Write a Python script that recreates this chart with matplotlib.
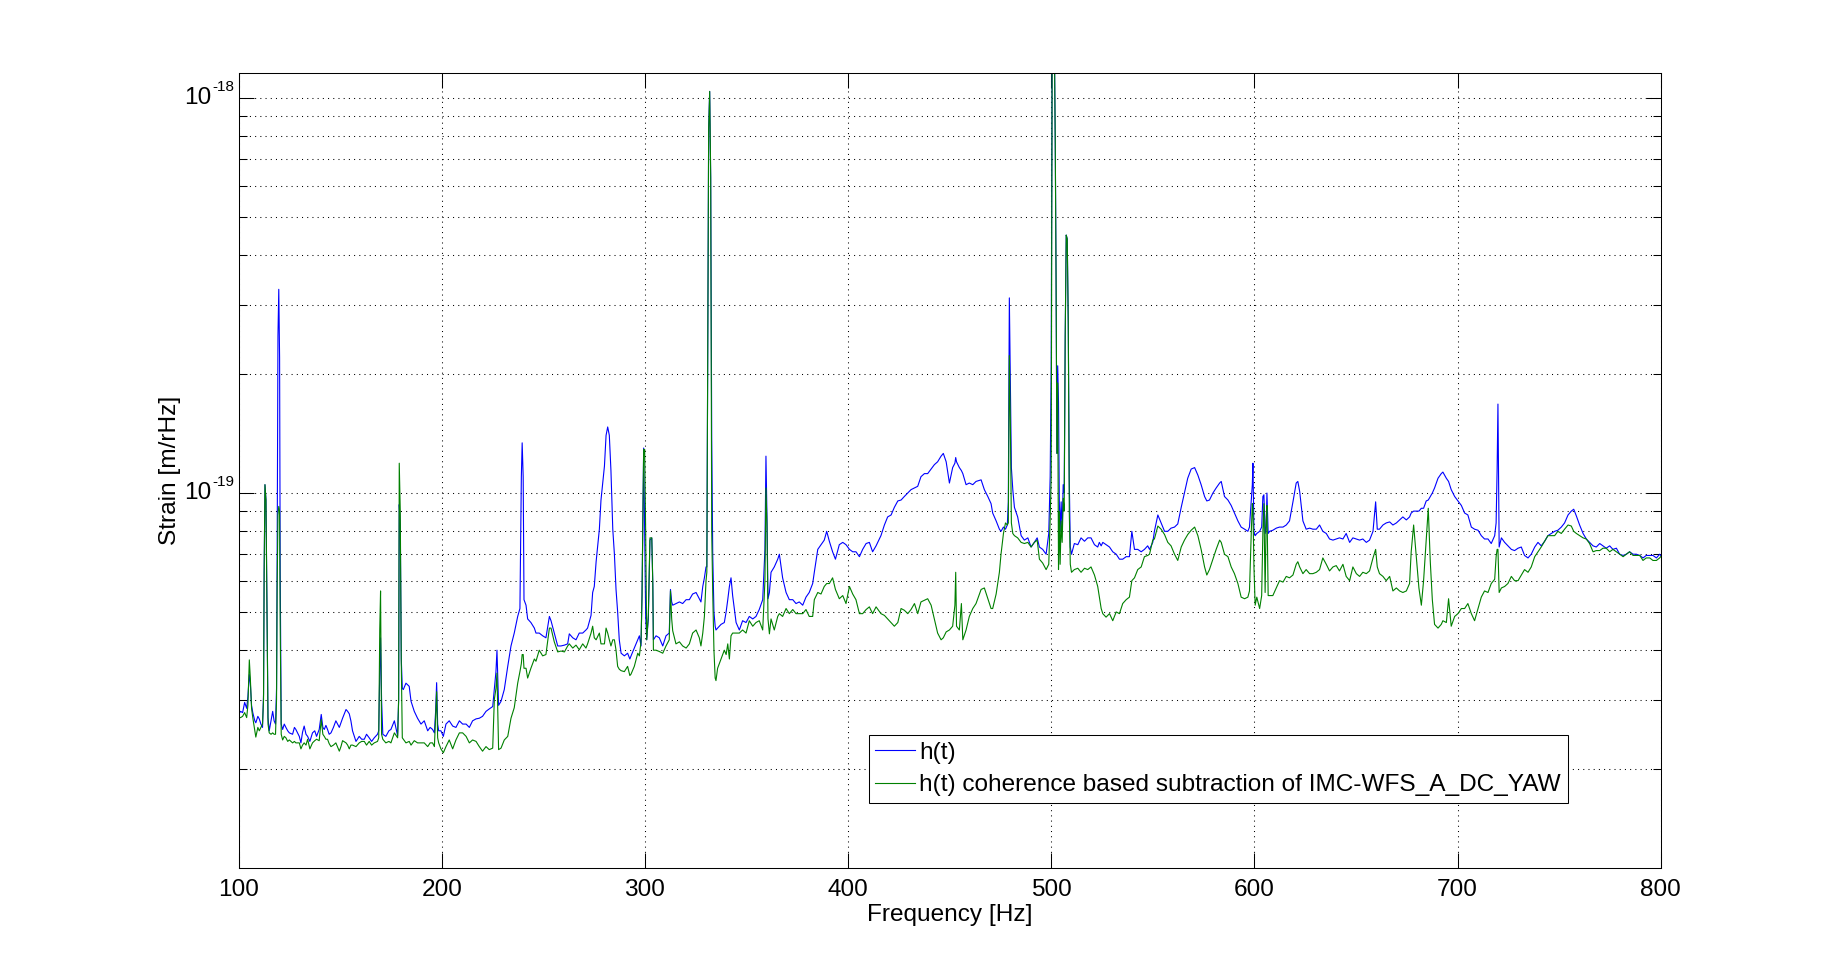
import numpy as np
import matplotlib
matplotlib.use("Agg")
import matplotlib.pyplot as plt
from matplotlib.ticker import LogLocator, NullFormatter, MultipleLocator
from matplotlib.transforms import blended_transform_factory, offset_copy

plt.rcParams["font.family"] = ["Liberation Sans", "DejaVu Sans"]

# amplitude spectral densities, in units of 1e-20 m/rHz
UNIT = 1e-20

freq = [
    100.0, 101.0, 102.0, 103.0, 104.0, 104.6, 105.3, 105.8, 106.4, 107.0,
    108.0, 108.5, 109.5, 110.2, 111.0, 111.8, 112.3, 112.6, 113.0, 113.5,
    114.0, 114.5, 115.1, 116.0, 116.8, 117.5, 118.2, 118.7, 119.0, 119.4,
    119.8, 120.2, 120.5, 121.0, 121.7, 122.5, 123.3, 124.2, 125.0, 126.6,
    127.5, 128.2, 129.9, 130.7, 131.5, 132.3, 133.2, 134.0, 135.1, 136.4,
    137.5, 138.4, 139.7, 140.7, 141.5, 142.2, 143.0, 143.8, 144.6, 145.5,
    146.7, 147.9, 149.6, 150.4, 151.2, 152.9, 153.7, 154.5, 155.3, 156.1,
    157.8, 159.4, 160.6, 161.9, 163.0, 164.3, 165.5, 166.8, 168.4, 169.0,
    169.5, 169.9, 170.4, 171.0, 172.5, 174.0, 175.0, 176.7, 178.3, 178.8,
    179.1, 179.6, 180.1, 180.6, 181.1, 182.4, 184.0, 184.9, 186.5, 188.1,
    189.8, 191.4, 193.1, 194.3, 195.5, 196.4, 197.0, 197.5, 198.0, 198.5,
    199.6, 200.8, 202.1, 203.7, 205.4, 207.0, 208.7, 210.3, 212.0, 213.6,
    215.2, 216.9, 218.5, 220.1, 221.8, 223.4, 225.1, 225.9, 226.7, 227.2,
    227.7, 228.0, 229.2, 230.8, 232.5, 234.1, 235.7, 237.4, 238.5, 239.2,
    239.6, 240.1, 240.5, 241.5, 242.3, 243.9, 245.6, 246.4, 248.0, 249.7,
    251.3, 253.0, 253.8, 255.4, 257.1, 258.7, 260.4, 262.0, 262.8, 264.5,
    266.1, 267.7, 269.4, 271.0, 271.8, 273.5, 274.3, 275.1, 276.0, 277.6,
    278.4, 280.1, 280.9, 281.7, 282.5, 283.3, 284.2, 285.0, 285.8, 286.6,
    287.4, 288.3, 289.9, 291.5, 292.6, 293.2, 294.8, 296.5, 297.3, 298.1,
    298.6, 299.0, 299.4, 299.9, 300.4, 300.9, 301.7, 302.5, 303.4, 303.9,
    304.2, 305.5, 307.1, 308.8, 310.4, 312.0, 312.6, 313.2, 313.7, 315.3,
    317.0, 318.6, 320.3, 321.9, 323.5, 325.2, 326.8, 327.6, 328.5, 329.3,
    330.1, 330.5, 330.9, 331.4, 331.9, 332.4, 332.9, 333.4, 334.0, 334.6,
    335.0, 335.8, 337.5, 339.1, 340.0, 340.8, 341.6, 342.4, 343.2, 344.9,
    346.5, 348.1, 349.8, 351.4, 353.1, 354.7, 356.3, 358.0, 359.1, 359.6,
    360.1, 360.6, 361.3, 362.1, 363.7, 365.4, 366.2, 367.8, 369.5, 371.1,
    372.8, 374.4, 376.0, 377.7, 379.3, 380.9, 382.6, 383.4, 385.1, 386.7,
    388.3, 389.5, 390.8, 392.4, 393.8, 395.7, 397.4, 399.0, 400.7, 402.3,
    403.9, 405.6, 407.2, 408.9, 410.5, 412.1, 413.8, 416.2, 417.9, 419.5,
    421.2, 422.8, 424.5, 426.1, 427.7, 429.4, 431.0, 432.7, 434.3, 435.9,
    437.6, 439.2, 440.9, 442.5, 444.1, 445.8, 446.9, 448.3, 449.9, 451.5,
    452.6, 453.0, 453.4, 454.8, 455.8, 456.5, 458.1, 459.7, 461.4, 463.0,
    465.5, 467.1, 468.8, 470.4, 471.2, 472.9, 474.5, 475.3, 476.5, 477.5,
    478.4, 478.9, 479.4, 479.9, 480.4, 481.1, 481.9, 483.5, 485.2, 486.8,
    488.5, 490.1, 491.7, 493.1, 494.2, 495.8, 497.5, 498.8, 499.5, 500.0,
    500.5, 501.0, 501.5, 502.0, 502.4, 502.8, 503.2, 503.6, 504.0, 504.4,
    504.9, 505.4, 505.9, 506.4, 506.9, 507.4, 507.9, 508.4, 508.9, 509.4,
    510.0, 511.4, 513.1, 514.7, 516.4, 518.0, 519.6, 521.3, 522.9, 523.7,
    524.6, 525.4, 527.0, 528.7, 530.3, 532.0, 533.6, 535.2, 536.9, 538.5,
    539.7, 541.0, 542.6, 544.3, 545.9, 547.5, 548.4, 550.0, 550.8, 552.5,
    554.1, 555.8, 557.4, 559.0, 560.7, 562.3, 564.0, 565.6, 567.2, 568.9,
    570.6, 572.2, 573.8, 575.5, 576.6, 577.9, 579.6, 581.2, 582.9, 583.7,
    585.3, 587.0, 588.6, 590.2, 591.9, 593.5, 595.2, 596.8, 597.6, 598.5,
    599.0, 599.3, 599.8, 600.4, 601.2, 602.6, 603.6, 604.2, 604.7, 605.3,
    605.8, 606.2, 606.8, 607.5, 609.1, 610.8, 612.4, 614.1, 615.7, 617.3,
    619.0, 620.6, 621.4, 622.3, 623.9, 625.5, 627.2, 628.8, 630.5, 632.1,
    633.7, 635.4, 637.0, 638.7, 640.3, 641.9, 643.6, 645.2, 646.9, 648.5,
    650.2, 651.8, 653.4, 655.1, 656.7, 658.4, 659.7, 660.5, 661.6, 663.3,
    664.9, 666.6, 668.2, 669.9, 671.5, 673.1, 674.8, 676.4, 677.2, 678.4,
    679.7, 681.0, 682.2, 683.3, 684.6, 685.6, 686.6, 687.6, 688.7, 690.4,
    692.0, 692.8, 694.5, 695.6, 696.9, 698.6, 700.2, 701.9, 703.5, 705.1,
    706.8, 708.4, 710.1, 711.7, 713.3, 715.0, 716.6, 718.3, 719.0, 719.5,
    719.9, 720.5, 721.6, 723.2, 724.8, 726.5, 728.1, 729.8, 731.4, 733.0,
    734.7, 736.3, 738.0, 739.6, 741.2, 742.9, 744.5, 746.2, 747.8, 749.4,
    751.1, 752.7, 754.4, 756.0, 757.2, 758.5, 760.1, 761.8, 763.4, 765.0,
    766.7, 768.3, 770.0, 771.6, 773.2, 774.9, 776.5, 778.2, 779.8, 781.5,
    783.1, 784.7, 786.4, 788.0, 789.7, 791.3, 792.9, 794.6, 796.2, 797.9,
    799.5, 800.0,
]

h_t = [
    2.75, 2.80, 2.78, 2.95, 2.85, 3.05, 3.47, 3.30, 2.90, 2.78,
    2.65, 2.62, 2.72, 2.68, 2.60, 2.55, 3.10, 6.30, 10.5, 9.60,
    5.00, 2.70, 2.50, 2.65, 2.80, 2.65, 2.60, 3.20, 6.90, 25.0,
    32.8, 22.0, 6.30, 2.60, 2.52, 2.60, 2.55, 2.50, 2.47, 2.45,
    2.55, 2.52, 2.42, 2.33, 2.48, 2.57, 2.45, 2.42, 2.35, 2.47,
    2.50, 2.42, 2.52, 2.75, 2.55, 2.52, 2.58, 2.52, 2.45, 2.47,
    2.55, 2.65, 2.55, 2.62, 2.69, 2.83, 2.80, 2.76, 2.65, 2.50,
    2.35, 2.42, 2.38, 2.38, 2.45, 2.40, 2.35, 2.40, 2.45, 2.50,
    3.50, 4.30, 3.00, 2.45, 2.42, 2.50, 2.52, 2.65, 2.43, 3.00,
    9.35, 8.30, 3.80, 3.20, 3.18, 3.30, 3.24, 2.97, 2.80, 2.69,
    2.60, 2.65, 2.50, 2.55, 2.52, 2.47, 2.80, 3.31, 2.60, 2.50,
    2.50, 2.42, 2.60, 2.65, 2.57, 2.55, 2.65, 2.60, 2.60, 2.55,
    2.65, 2.68, 2.69, 2.72, 2.80, 2.84, 2.88, 3.20, 3.53, 4.00,
    3.30, 2.90, 2.97, 3.18, 3.64, 4.10, 4.42, 4.87, 5.10, 11.0,
    13.4, 11.0, 5.37, 5.20, 4.80, 4.70, 4.55, 4.42, 4.42, 4.35,
    4.30, 4.87, 4.75, 4.42, 4.10, 4.10, 4.12, 4.15, 4.40, 4.30,
    4.25, 4.42, 4.42, 4.50, 4.55, 4.90, 5.60, 5.80, 6.70, 8.10,
    9.60, 11.7, 14.0, 14.7, 14.0, 11.4, 8.10, 7.00, 5.70, 5.00,
    4.25, 3.93, 3.87, 3.93, 3.80, 3.87, 4.05, 4.25, 4.35, 4.10,
    5.50, 8.40, 13.0, 7.90, 4.87, 4.25, 4.80, 7.60, 7.70, 5.90,
    4.25, 4.35, 4.30, 4.10, 4.35, 4.42, 5.70, 5.30, 5.20, 5.25,
    5.30, 5.25, 5.37, 5.37, 5.55, 5.60, 5.40, 5.30, 5.80, 6.10,
    6.50, 6.50, 21.7, 84.0, 104., 63.0, 13.9, 7.00, 5.00, 4.60,
    4.50, 4.55, 4.65, 4.70, 5.00, 5.37, 5.80, 6.10, 5.50, 4.70,
    4.50, 4.75, 4.70, 4.87, 4.80, 4.87, 5.07, 5.37, 7.20, 12.4,
    8.70, 5.40, 5.60, 6.30, 6.50, 6.80, 7.00, 6.10, 5.60, 5.37,
    5.37, 5.25, 5.30, 5.20, 5.45, 5.60, 5.90, 6.30, 7.20, 7.40,
    7.60, 8.00, 7.55, 7.10, 6.80, 7.40, 7.50, 7.40, 7.20, 7.10,
    7.10, 6.90, 7.20, 7.45, 7.50, 7.10, 7.35, 7.80, 8.30, 8.70,
    8.80, 9.20, 9.55, 9.60, 9.80, 10.0, 10.2, 10.3, 10.4, 11.0,
    11.2, 11.2, 11.5, 11.8, 12.0, 12.4, 12.6, 12.0, 10.6, 11.6,
    11.9, 12.3, 12.0, 11.6, 11.4, 11.2, 10.5, 10.6, 10.5, 10.7,
    10.8, 10.2, 9.80, 9.40, 8.90, 8.50, 8.10, 8.00, 8.20, 8.10,
    8.30, 9.50, 31.2, 19.0, 11.6, 10.2, 9.20, 8.70, 7.80, 7.60,
    7.70, 7.30, 7.50, 7.70, 7.30, 7.20, 7.00, 7.90, 11.0, 21.0,
    150., 150., 150., 77.0, 35.0, 12.6, 21.0, 17.0, 9.50, 8.00,
    9.50, 8.00, 10.5, 10.0, 25.0, 45.0, 44.0, 27.0, 10.9, 7.30,
    7.00, 7.45, 7.40, 7.70, 7.55, 7.70, 7.70, 7.40, 7.30, 7.50,
    7.35, 7.50, 7.40, 7.30, 7.10, 7.00, 6.80, 6.80, 6.90, 6.90,
    8.00, 7.20, 7.20, 7.10, 7.20, 7.35, 7.20, 7.50, 8.00, 8.80,
    8.40, 8.00, 8.00, 8.15, 8.20, 8.35, 9.20, 10.0, 10.9, 11.5,
    11.6, 11.1, 10.5, 9.80, 9.55, 9.60, 10.0, 10.3, 10.6, 10.7,
    9.80, 9.60, 9.30, 8.90, 8.50, 8.20, 8.10, 8.00, 8.20, 9.60,
    10.5, 11.9, 8.00, 7.80, 7.90, 8.00, 8.20, 9.80, 9.90, 7.90,
    8.20, 10.0, 7.90, 8.00, 8.05, 8.15, 8.20, 8.20, 8.30, 8.50,
    9.50, 10.6, 10.7, 10.1, 8.50, 8.10, 8.15, 8.10, 8.10, 8.30,
    8.00, 7.90, 7.65, 7.60, 7.65, 7.70, 7.65, 7.90, 7.50, 7.70,
    7.65, 7.60, 7.65, 7.50, 7.60, 8.00, 9.50, 8.10, 8.10, 8.30,
    8.40, 8.45, 8.30, 8.40, 8.55, 8.70, 8.55, 8.70, 8.90, 9.00,
    9.00, 9.00, 9.15, 9.15, 9.55, 9.60, 9.80, 10.0, 10.3, 10.9,
    11.2, 11.3, 10.9, 10.7, 10.2, 9.80, 9.55, 9.30, 8.90, 8.80,
    8.20, 8.10, 8.05, 7.80, 7.65, 7.65, 7.45, 7.80, 8.40, 11.5,
    16.8, 7.30, 7.70, 7.50, 7.35, 7.20, 7.15, 7.25, 7.30, 6.95,
    6.85, 7.00, 7.30, 7.50, 7.35, 7.55, 7.80, 7.90, 8.00, 8.05,
    8.20, 8.40, 8.80, 9.00, 9.10, 8.75, 8.30, 7.90, 7.65, 7.50,
    7.35, 7.30, 7.45, 7.35, 7.25, 7.35, 7.20, 7.25, 7.00, 6.95,
    7.00, 7.10, 7.00, 7.00, 6.95, 6.85, 6.95, 6.95, 6.95, 6.85,
    7.00, 6.95,
]

h_sub = [
    2.70, 2.70, 2.72, 2.78, 2.70, 2.90, 3.78, 3.40, 2.85, 2.70,
    2.50, 2.41, 2.55, 2.50, 2.55, 2.60, 3.00, 6.30, 10.5, 9.60,
    5.00, 2.60, 2.47, 2.45, 2.47, 2.45, 2.45, 3.00, 5.80, 8.80,
    9.25, 9.00, 4.60, 2.45, 2.37, 2.42, 2.40, 2.35, 2.37, 2.33,
    2.35, 2.33, 2.33, 2.25, 2.30, 2.33, 2.30, 2.38, 2.25, 2.33,
    2.36, 2.38, 2.36, 2.67, 2.45, 2.42, 2.38, 2.38, 2.32, 2.28,
    2.30, 2.33, 2.22, 2.28, 2.36, 2.33, 2.30, 2.25, 2.30, 2.30,
    2.28, 2.33, 2.35, 2.35, 2.30, 2.35, 2.30, 2.33, 2.35, 2.40,
    4.50, 5.65, 2.45, 2.38, 2.33, 2.35, 2.33, 2.47, 2.40, 3.00,
    11.9, 9.00, 3.70, 2.40, 2.38, 2.33, 2.35, 2.30, 2.36, 2.33,
    2.33, 2.33, 2.28, 2.33, 2.33, 2.28, 2.70, 3.14, 2.40, 2.33,
    2.25, 2.20, 2.28, 2.37, 2.25, 2.37, 2.47, 2.47, 2.42, 2.33,
    2.37, 2.35, 2.28, 2.22, 2.28, 2.24, 2.26, 3.00, 3.20, 3.50,
    2.60, 2.24, 2.26, 2.37, 2.42, 2.69, 2.86, 3.30, 3.53, 3.70,
    3.90, 3.90, 3.60, 3.60, 3.40, 3.60, 3.80, 3.75, 4.00, 3.87,
    3.90, 4.55, 4.55, 4.20, 3.96, 3.98, 3.96, 4.10, 4.15, 4.05,
    4.12, 4.01, 4.15, 4.05, 4.15, 4.42, 4.60, 4.30, 4.25, 4.42,
    4.15, 4.15, 4.55, 4.42, 4.25, 4.10, 4.25, 4.25, 4.00, 3.64,
    3.58, 3.55, 3.53, 3.64, 3.45, 3.48, 3.64, 3.93, 3.87, 4.20,
    5.50, 8.40, 12.9, 12.9, 7.90, 4.25, 4.90, 7.70, 7.70, 5.90,
    4.00, 4.00, 3.97, 3.93, 4.10, 4.25, 5.65, 4.80, 4.48, 4.15,
    4.20, 4.10, 4.05, 4.15, 4.42, 4.50, 4.30, 4.10, 4.42, 4.87,
    6.00, 6.30, 21.0, 84.0, 104., 63.0, 8.00, 5.60, 4.00, 3.40,
    3.35, 3.60, 3.80, 4.00, 3.90, 4.15, 3.80, 4.35, 4.42, 4.42,
    4.42, 4.50, 4.42, 4.75, 4.60, 4.70, 4.75, 4.50, 6.00, 10.3,
    8.30, 4.80, 4.40, 4.80, 4.50, 4.87, 4.95, 4.87, 5.10, 4.95,
    5.07, 4.95, 4.95, 4.95, 5.07, 4.87, 4.87, 5.37, 5.60, 5.55,
    5.80, 5.90, 5.90, 6.10, 5.70, 5.40, 5.50, 5.25, 5.80, 5.55,
    5.37, 4.95, 4.95, 5.07, 5.15, 4.95, 5.15, 4.95, 4.90, 4.80,
    4.70, 4.60, 4.70, 5.10, 5.05, 4.95, 5.07, 5.25, 4.95, 5.30,
    5.35, 5.40, 5.20, 4.80, 4.42, 4.25, 4.30, 4.45, 4.50, 4.60,
    5.20, 6.30, 4.60, 4.50, 5.25, 4.25, 4.50, 4.87, 5.10, 5.25,
    5.70, 5.75, 5.40, 5.10, 5.10, 5.55, 6.30, 7.00, 7.90, 8.40,
    8.30, 8.40, 22.3, 15.0, 8.40, 7.90, 7.80, 7.70, 7.50, 7.45,
    7.50, 7.30, 7.50, 7.60, 6.80, 6.65, 6.40, 6.60, 8.60, 11.0,
    150., 150., 150., 77.0, 35.0, 12.6, 19.0, 6.40, 9.00, 6.60,
    8.50, 7.50, 9.70, 9.00, 25.0, 45.0, 44.0, 27.0, 9.00, 6.60,
    6.30, 6.40, 6.45, 6.30, 6.45, 6.40, 6.50, 6.20, 5.80, 5.45,
    5.10, 4.95, 4.85, 4.95, 4.75, 5.00, 4.95, 5.25, 5.37, 5.45,
    6.00, 6.10, 6.40, 6.50, 6.90, 6.95, 7.00, 7.60, 7.65, 8.25,
    8.10, 7.85, 7.50, 7.35, 7.00, 6.75, 7.30, 7.60, 7.85, 8.05,
    8.20, 7.80, 7.20, 6.50, 6.20, 6.40, 6.80, 7.20, 7.60, 7.50,
    7.00, 6.90, 6.50, 6.25, 5.90, 5.45, 5.40, 5.45, 5.65, 8.00,
    9.40, 9.10, 6.50, 5.20, 5.45, 5.10, 5.50, 8.00, 9.40, 5.60,
    8.50, 9.30, 5.50, 5.50, 5.50, 5.75, 6.00, 5.95, 6.15, 6.10,
    6.20, 6.60, 6.70, 6.50, 6.25, 6.40, 6.25, 6.25, 6.30, 6.40,
    6.85, 6.60, 6.35, 6.50, 6.55, 6.35, 6.60, 6.15, 6.00, 6.50,
    6.25, 6.15, 6.30, 6.25, 6.35, 6.85, 7.20, 6.50, 6.25, 6.15,
    6.00, 6.15, 5.65, 5.75, 5.65, 5.60, 5.65, 5.90, 7.10, 8.30,
    6.90, 5.75, 5.20, 6.00, 7.60, 9.15, 6.70, 5.37, 4.65, 4.55,
    4.65, 4.75, 4.70, 5.40, 4.60, 4.87, 4.95, 5.10, 5.10, 5.25,
    4.95, 4.75, 5.10, 5.45, 5.65, 5.60, 5.90, 6.05, 6.90, 7.20,
    7.20, 5.60, 5.75, 5.80, 5.90, 6.15, 6.00, 6.00, 6.20, 6.40,
    6.30, 6.50, 6.90, 7.10, 7.30, 7.55, 7.80, 7.80, 7.80, 8.00,
    7.90, 8.10, 8.30, 8.25, 8.00, 7.90, 7.80, 7.70, 7.65, 7.45,
    7.10, 7.15, 7.15, 7.25, 7.25, 7.10, 7.20, 7.10, 7.00, 6.90,
    7.00, 7.10, 6.95, 6.95, 6.95, 6.75, 6.85, 6.85, 6.75, 6.75,
    6.85, 6.90,
]

series_labels = ["h(t)", "h(t) coherence based subtraction of IMC-WFS_A_DC_YAW"]
series_colors = ["#0000ff", "#008000"]

FS = 17.6

fig = plt.figure(figsize=(18.35, 9.75), dpi=100)
ax = fig.add_axes([0.13, 0.11, 0.775, 0.815])

for vals, lab, col in zip([h_t, h_sub], series_labels, series_colors):
    ax.plot(freq, np.asarray(vals) * UNIT, color=col, lw=0.8, label=lab)

ax.set_yscale("log")
ax.set_xlim(100, 800)
ax.set_ylim(1.125e-20, 1.157e-18)
ax.xaxis.set_major_locator(MultipleLocator(100))
ax.yaxis.set_major_locator(LogLocator(base=10))
ax.yaxis.set_minor_locator(LogLocator(base=10, subs=np.arange(2, 10)))
ax.yaxis.set_minor_formatter(NullFormatter())

# MATLAB style dotted grid
dots = (0, (1, 4))
ax.grid(True, which="major", axis="both", color="k", ls=dots, lw=0.75)
ax.grid(True, which="minor", axis="y", color="k", ls=dots, lw=0.75)

ax.tick_params(which="both", direction="in", top=True, right=True,
               width=0.75, labelsize=FS)
ax.tick_params(which="major", length=11, pad=8)
ax.tick_params(which="minor", length=6)
ax.tick_params(axis="y", labelleft=False)
for s in ax.spines.values():
    s.set_linewidth(0.75)

# decade labels in MATLAB look: big "10", small raised exponent
ylo, yhi = ax.get_ylim()
trans = blended_transform_factory(ax.transAxes, ax.transData)
base_tr = offset_copy(trans, fig=fig, x=-27, y=0, units="dots")
exp_tr = offset_copy(trans, fig=fig, x=-26, y=11, units="dots")
for e in range(int(np.floor(np.log10(ylo))), int(np.ceil(np.log10(yhi))) + 1):
    v = 10.0 ** e
    if ylo <= v <= yhi:
        ax.text(0, v, "10", transform=base_tr, ha="right", va="center",
                fontsize=FS)
        ax.text(0, v, str(e), transform=exp_tr, ha="left", va="center",
                fontsize=11)

ax.set_xlabel("Frequency [Hz]", fontsize=FS, labelpad=2)
ax.set_ylabel("Strain [m/rHz]", fontsize=FS)
ax.yaxis.set_label_coords(-0.0405, 0.5)

leg = ax.legend(loc="upper left", bbox_to_anchor=(0.443, 0.167),
                borderaxespad=0, fancybox=False, framealpha=1,
                edgecolor="k", fontsize=FS, handlelength=1.6,
                handletextpad=0.2, borderpad=0.28, labelspacing=0.42)
leg.get_frame().set_linewidth(0.75)

fig.savefig("out.png", dpi=100)
